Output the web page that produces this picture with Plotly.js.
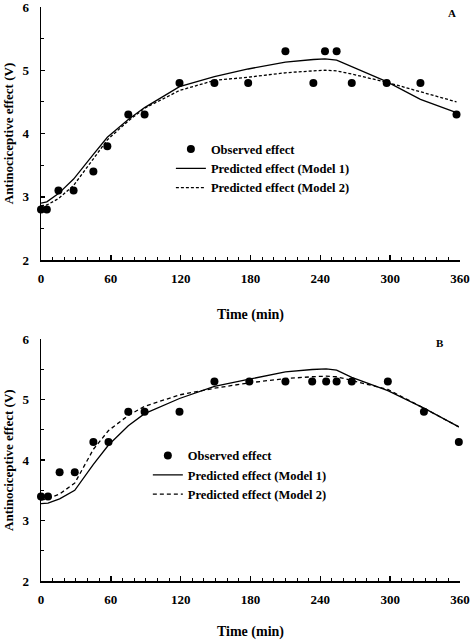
<!DOCTYPE html>
<html>
<head>
<meta charset="utf-8">
<script src="https://cdn.plot.ly/plotly-3.0.1.min.js"></script>
<style>html,body{margin:0;padding:0;background:#fff;}#chart{width:472px;height:640px;}</style>
</head>
<body>
<div id="chart"></div>
<script>
// Panel A data
const timeA = [0, 5, 15, 28, 45, 57, 75, 89, 119, 149, 178, 210, 234, 244, 254, 267, 297, 326, 357];
const observedA = [2.8, 2.8, 3.1, 3.1, 3.4, 3.8, 4.3, 4.3, 4.8, 4.8, 4.8, 5.3, 4.8, 5.3, 5.3, 4.8, 4.8, 4.8, 4.3];
const model1A = [2.90, 2.92, 3.05, 3.28, 3.67, 3.94, 4.22, 4.41, 4.74, 4.90, 5.02, 5.13, 5.17, 5.18, 5.16, 5.06, 4.82, 4.54, 4.33];
const model2A = [2.86, 2.87, 2.97, 3.18, 3.60, 3.90, 4.20, 4.40, 4.68, 4.84, 4.89, 4.96, 4.99, 5.00, 4.99, 4.94, 4.81, 4.66, 4.50];

// Panel B data
const timeB = [0, 6, 16, 29, 45, 58, 75, 89, 119, 149, 179, 210, 233, 245, 254, 267, 298, 329, 359];
const observedB = [3.4, 3.4, 3.8, 3.8, 4.3, 4.3, 4.8, 4.8, 4.8, 5.3, 5.3, 5.3, 5.3, 5.3, 5.3, 5.3, 5.3, 4.8, 4.3];
const model1B = [3.28, 3.29, 3.36, 3.50, 3.93, 4.25, 4.57, 4.77, 5.02, 5.22, 5.34, 5.46, 5.50, 5.51, 5.49, 5.37, 5.15, 4.86, 4.55];
const model2B = [3.34, 3.36, 3.44, 3.62, 4.18, 4.49, 4.74, 4.89, 5.08, 5.19, 5.28, 5.35, 5.38, 5.39, 5.38, 5.32, 5.17, 4.86, 4.55];

const xTicks = [0, 60, 120, 180, 240, 300, 360];
const yTicks = [2, 3, 4, 5, 6];
const seriesNames = ["Observed effect", "Predicted effect (Model 1)", "Predicted effect (Model 2)"];
const xTitle = "Time (min)";
const yTitle = "Antinociceptive effect (V)";
const panelLabels = ["A", "B"];

const FONT = "Liberation Serif, Times New Roman, serif";
const boldFont = (s) => ({family: FONT, size: s, color: "#000", weight: "bold"});

function panelTraces(t, obs, m1, m2, xa, ya, lg, dashA) {
  return [
    {x: t, y: obs, xaxis: xa, yaxis: ya, legend: lg, name: seriesNames[0], type: "scatter", mode: "markers",
     marker: {color: "#000", size: 8, symbol: "circle"}, cliponaxis: false},
    {x: t, y: m1, xaxis: xa, yaxis: ya, legend: lg, name: seriesNames[1], type: "scatter", mode: "lines",
     line: {color: "#000", width: 1.3, dash: "solid"}, cliponaxis: false},
    {x: t, y: m2, xaxis: xa, yaxis: ya, legend: lg, name: seriesNames[2], type: "scatter", mode: "lines",
     line: {color: "#000", width: 1.3, dash: dashA}, cliponaxis: false}
  ];
}

const data = [].concat(
  panelTraces(timeA, observedA, model1A, model2A, "x", "y", "legend", "3px,2px"),
  panelTraces(timeB, observedB, model1B, model2B, "x2", "y2", "legend2", "4px,3px")
);

function xAxis(anchor) {
  return {
    anchor: anchor, domain: [0, 1], range: [0, 360], tickvals: xTicks, ticktext: xTicks.map(String),
    ticks: "inside", ticklen: 5, tickwidth: 1.5, tickcolor: "#000",
    minor: {dtick: 10, tick0: 0, ticks: "inside", ticklen: 3, tickwidth: 1, tickcolor: "#000", showgrid: false},
    showline: true, linecolor: "#000", linewidth: 1.5, showgrid: false, zeroline: false,
    tickfont: boldFont(13), ticklabelstandoff: 6, ticklabeloverflow: "allow",
    title: {text: xTitle, font: boldFont(14), standoff: 24}
  };
}
function yAxis(anchor, dom) {
  return {
    anchor: anchor, domain: dom, range: [2, 6], tickvals: yTicks, ticktext: yTicks.map(String),
    ticks: "inside", ticklen: 4, tickwidth: 1.5, tickcolor: "#000",
    minor: {dtick: 0.5, tick0: 2, ticks: "inside", ticklen: 3, tickwidth: 1, tickcolor: "#000", showgrid: false},
    showline: true, linecolor: "#000", linewidth: 1.5, showgrid: false, zeroline: false,
    tickfont: boldFont(13), ticklabelstandoff: 8, ticklabeloverflow: "allow",
    title: {text: yTitle, font: boldFont(13), standoff: 6}
  };
}

const legendBase = {
  xref: "paper", yref: "paper", xanchor: "left", yanchor: "top",
  bgcolor: "rgba(0,0,0,0)", borderwidth: 0, font: boldFont(12.5), itemwidth: 30, tracegroupgap: 0
};

const layout = {
  width: 472, height: 640,
  margin: {l: 41, r: 12, t: 7, b: 59},
  paper_bgcolor: "#fff", plot_bgcolor: "#fff",
  showlegend: true,
  xaxis: xAxis("y"),
  yaxis: yAxis("x", [0.5592, 1]),
  xaxis2: xAxis("y2"),
  yaxis2: yAxis("x2", [0, 0.4211]),
  legend: Object.assign({}, legendBase, {x: 0.31, y: 0.778}),
  legend2: Object.assign({}, legendBase, {x: 0.255, y: 0.244}),
  annotations: [
    {text: panelLabels[0], xref: "paper", yref: "paper", x: 0.996, y: 0.9894, xanchor: "right", yanchor: "middle",
     showarrow: false, font: boldFont(11)},
    {text: panelLabels[1], xref: "paper", yref: "paper", x: 0.967, y: 0.4155, xanchor: "right", yanchor: "middle",
     showarrow: false, font: boldFont(11)}
  ],
  hovermode: false
};

Plotly.newPlot("chart", data, layout, {staticPlot: true, displayModeBar: false});
</script>
</body>
</html>
